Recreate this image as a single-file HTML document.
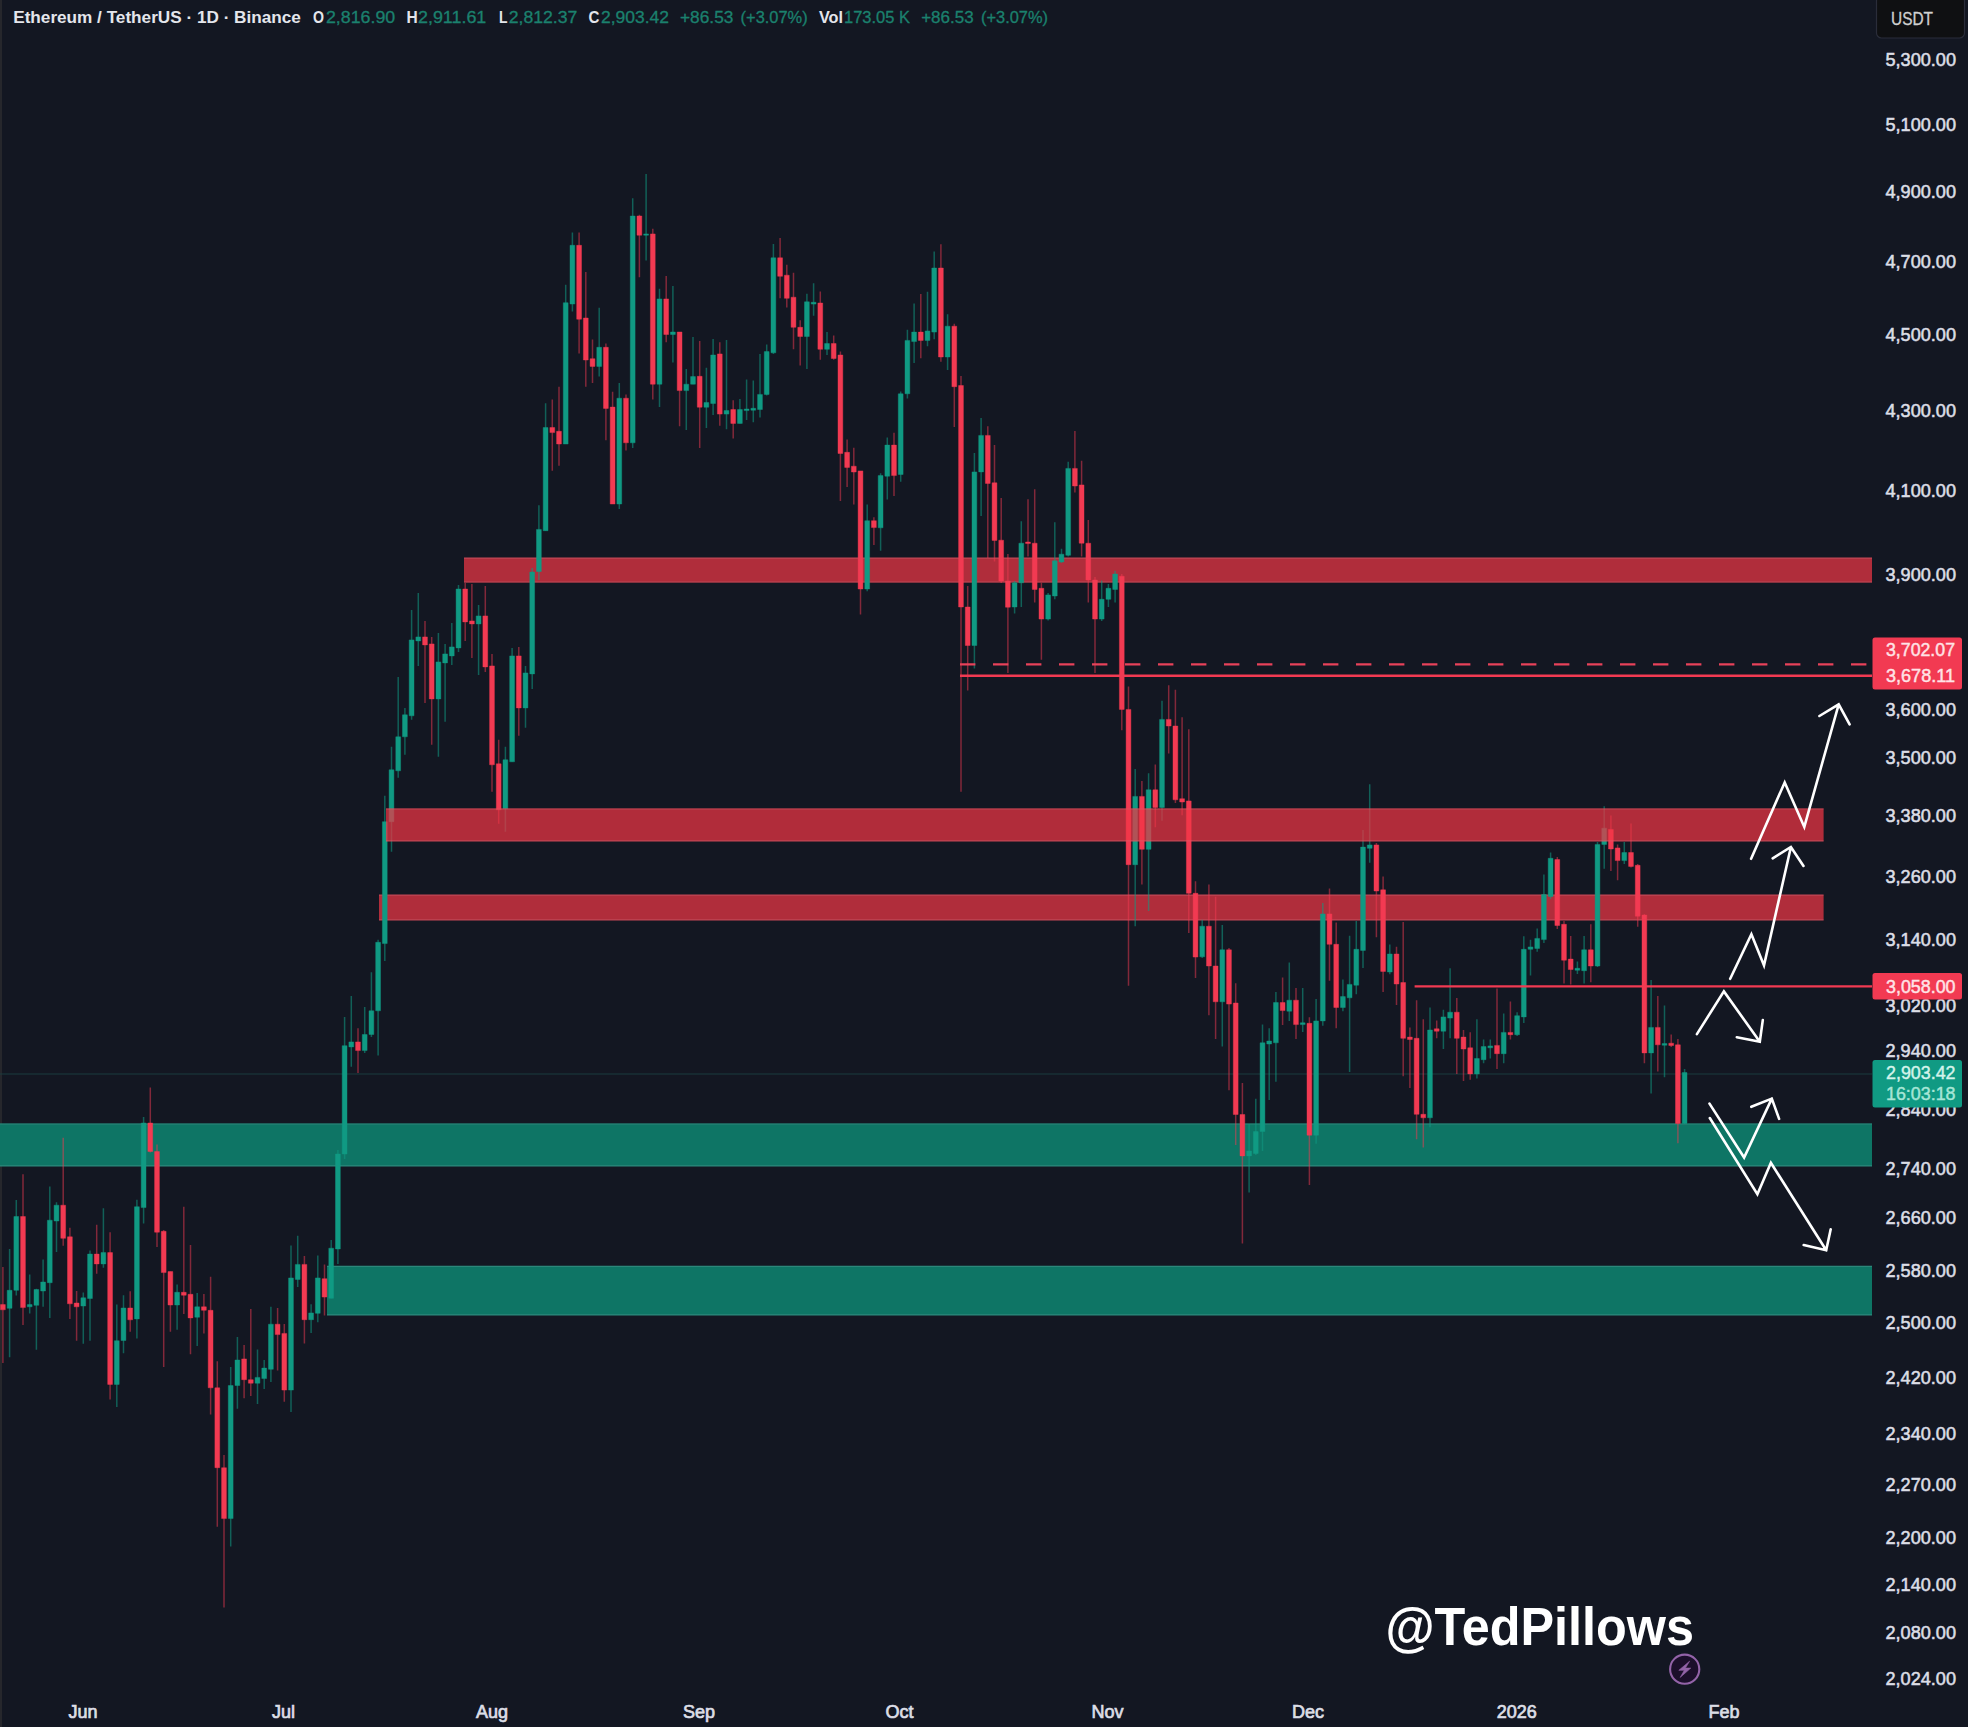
<!DOCTYPE html>
<html><head><meta charset="utf-8"><title>ETHUSDT</title>
<style>html,body{margin:0;padding:0;background:#131722;}body{width:1968px;height:1727px;overflow:hidden;font-family:"Liberation Sans",sans-serif;}svg{display:block;}text{font-family:"Liberation Sans",sans-serif;}</style>
</head><body>
<svg width="1968" height="1727" viewBox="0 0 1968 1727">
<rect x="0" y="0" width="1968" height="1727" fill="#131722"/>
<rect x="0" y="0" width="2" height="1727" fill="#26272c"/>
<g id="zones">
<rect x="464.0" y="557.6" width="1408.0" height="25.0" fill="#b02d3b"/>
<path d="M464.0 558.2h1408.0M464.0 582.0h1408.0" stroke="#d8707c" stroke-width="1.2" stroke-opacity="0.4" fill="none"/>
<rect x="379.0" y="894.6" width="1444.6" height="25.8" fill="#b02d3b"/>
<path d="M379.0 895.2h1444.6M379.0 919.8h1444.6" stroke="#d8707c" stroke-width="1.2" stroke-opacity="0.4" fill="none"/>
<rect x="0.0" y="1123.4" width="1872.0" height="43.0" fill="#0e7565"/>
<path d="M0.0 1124.0h1872.0M0.0 1165.8h1872.0" stroke="#5aa39a" stroke-width="1.2" stroke-opacity="0.4" fill="none"/>
<rect x="327.0" y="1265.8" width="1545.0" height="49.6" fill="#0e7565"/>
<path d="M327.0 1266.4h1545.0M327.0 1314.8h1545.0" stroke="#5aa39a" stroke-width="1.2" stroke-opacity="0.4" fill="none"/>
</g>
<line x1="0" y1="1074" x2="1872" y2="1074" stroke="#1a3d3f" stroke-width="1"/>
<g id="candles">
<path d="M9.6 1248.9V1357.3M16.3 1200.0V1295.5M29.7 1274.5V1313.6M36.4 1288.8V1349.8M43.1 1259.4V1306.8M49.8 1186.4V1318.1M56.5 1202.2V1251.9M83.3 1292.5V1343.7M90.0 1250.4V1340.7M103.4 1208.2V1267.7M116.8 1304.6V1407.0M123.5 1295.2V1353.3M136.9 1199.8V1338.5M143.6 1117.0V1223.4M177.1 1284.4V1329.7M197.2 1293.0V1346.0M230.7 1367.0V1546.4M237.4 1337.0V1408.7M257.5 1349.6V1404.0M264.2 1360.0V1389.0M270.9 1306.8V1382.0M291.0 1245.5V1412.0M297.7 1235.8V1287.0M311.1 1304.3V1332.9M317.8 1255.4V1322.3M331.2 1240.0V1298.3M337.9 1150.0V1264.0M344.6 1017.0V1159.0M351.3 995.9V1066.8M364.7 1007.0V1053.0M371.4 972.2V1037.0M378.1 939.8V1055.6M384.8 795.8V961.0M391.5 746.8V851.7M398.2 676.9V777.8M404.9 707.9V754.8M411.6 610.0V719.8M418.3 593.0V665.9M438.4 632.9V756.8M445.1 643.9V721.8M451.8 622.9V664.9M458.5 585.0V651.9M478.6 605.0V674.9M505.4 746.8V831.7M512.1 647.9V761.8M525.5 665.9V727.8M532.2 568.0V688.9M538.9 505.2V580.0M545.6 403.3V530.7M565.7 284.8V444.0M572.4 232.6V311.6M599.2 307.8V376.6M619.3 383.0V509.0M632.7 198.2V448.0M646.1 174.0V260.6M659.5 288.7V407.1M672.9 286.1V362.5M686.3 368.9V430.0M693.0 337.0V384.2M706.4 367.8V428.0M713.1 338.9V415.0M726.5 340.0V429.2M739.9 399.0V423.4M746.6 379.4V420.0M753.3 380.5V422.2M760.0 353.9V417.6M766.7 344.6V395.5M773.4 243.9V354.0M806.9 293.7V369.0M813.6 283.3V315.7M827.0 331.9V355.0M867.2 504.5V591.3M880.6 473.2V550.8M887.3 437.5V499.6M900.7 391.4V481.7M907.4 329.7V398.6M914.1 303.6V363.0M927.5 291.7V346.3M934.2 251.4V339.2M947.6 314.3V370.0M974.4 453.0V668.6M981.1 418.0V515.9M1014.6 581.0V613.6M1021.3 521.2V607.0M1048.1 593.0V620.5M1054.8 522.3V599.3M1061.5 548.7V563.0M1068.2 461.8V556.5M1101.7 580.6V621.0M1108.4 584.0V607.0M1115.1 570.7V602.6M1135.2 768.9V926.3M1148.6 773.3V910.9M1162.0 700.7V820.7M1202.2 919.7V958.0M1222.3 925.0V1046.4M1249.1 1124.0V1192.4M1255.8 1098.7V1155.0M1262.5 1024.5V1151.0M1269.2 1028.2V1100.0M1275.9 991.9V1081.7M1289.3 962.5V1020.9M1302.7 988.1V1031.9M1316.1 999.0V1143.7M1322.8 903.0V1025.8M1342.9 979.6V1011.2M1349.6 935.8V1072.0M1356.3 921.0V994.2M1363.0 830.0V968.0M1369.7 784.2V862.7M1389.8 944.4V974.2M1430.0 1007.4V1127.3M1443.4 1009.8V1049.0M1450.1 968.2V1038.3M1476.9 1019.3V1078.6M1483.6 1039.5V1063.2M1490.3 1039.5V1058.5M1503.7 1013.4V1063.2M1517.1 1012.2V1036.0M1523.8 936.2V1022.9M1530.5 939.8V975.4M1537.2 928.5V951.8M1543.9 874.5V943.1M1550.6 852.5V898.9M1577.4 961.4V974.1M1584.1 935.9V983.4M1597.5 842.1V967.0M1604.2 806.2V868.8M1624.3 842.1V864.1M1651.1 979.9V1093.4M1664.5 1005.4V1077.2M1684.6 1069.1V1124.0" stroke="#109a83" stroke-width="1.5" stroke-opacity="0.56" fill="none"/>
<path d="M2.9 1267.0V1363.0M23.0 1174.3V1325.0M63.2 1137.8V1245.8M69.9 1227.8V1318.9M76.6 1291.0V1340.7M96.7 1224.8V1273.7M110.1 1232.3V1399.4M130.2 1291.3V1331.7M150.3 1087.6V1152.5M157.0 1144.6V1247.0M163.7 1230.0V1367.0M170.4 1271.6V1331.7M183.8 1206.7V1314.0M190.5 1245.0V1354.3M203.9 1294.0V1333.4M210.6 1276.7V1414.4M217.3 1361.2V1526.7M224.0 1455.0V1607.5M244.1 1345.0V1398.2M250.8 1309.0V1396.0M277.6 1308.0V1370.5M284.3 1324.0V1401.7M304.4 1256.0V1343.4M324.5 1264.4V1315.6M358.0 1028.2V1073.0M425.0 620.9V702.9M431.7 636.9V744.8M465.2 583.0V640.9M471.9 584.0V657.9M485.3 586.0V671.9M492.0 653.9V791.8M498.7 739.8V823.7M518.8 646.9V735.8M552.3 399.5V470.8M559.0 386.8V465.7M579.1 232.6V353.6M585.8 272.0V386.8M592.5 339.6V383.0M605.9 343.4V440.3M612.6 391.8V504.0M626.0 394.4V450.4M639.4 214.8V277.2M652.8 228.8V399.5M666.2 275.9V342.2M679.6 332.0V426.2M699.7 340.9V447.9M719.8 342.3V425.7M733.2 400.2V438.4M780.1 238.1V298.3M786.8 264.7V307.6M793.5 272.8V349.3M800.2 320.3V365.5M820.3 291.4V359.7M833.7 335.4V359.7M840.4 351.6V501.0M847.1 439.6V487.1M853.8 447.7V504.5M860.5 470.9V614.5M873.9 517.2V545.0M894.0 432.8V496.1M920.8 294.0V358.2M940.9 244.2V361.8M954.3 323.8V427.0M961.0 376.0V791.8M967.7 586.0V690.6M987.8 426.3V558.1M994.5 445.1V561.6M1001.2 498.0V583.0M1007.9 554.0V673.0M1028.0 499.2V556.4M1034.7 489.3V602.6M1041.4 582.8V659.8M1074.9 431.0V492.6M1081.6 460.7V556.4M1088.3 520.1V602.6M1095.0 577.0V673.0M1121.8 574.0V730.3M1128.5 686.4V985.7M1141.9 781.0V884.5M1155.3 764.5V827.3M1168.7 685.3V753.5M1175.4 689.7V803.0M1182.1 717.2V815.2M1188.8 729.3V932.9M1195.5 881.2V978.0M1208.9 884.6V1015.2M1215.6 896.7V1039.1M1229.0 948.0V1090.2M1235.7 983.3V1145.0M1242.4 1082.9V1243.4M1282.6 977.5V1025.0M1296.0 988.1V1039.1M1309.4 1017.3V1185.1M1329.5 888.4V980.8M1336.2 922.4V1028.2M1376.4 843.0V937.2M1383.1 876.5V991.9M1396.5 946.8V1005.0M1403.2 922.0V1076.3M1409.9 1027.6V1088.1M1416.6 1000.3V1139.2M1423.3 1019.3V1147.5M1436.7 1020.5V1038.3M1456.8 997.9V1073.9M1463.5 1030.0V1081.0M1470.2 1032.3V1079.8M1497.0 988.4V1069.1M1510.4 1001.5V1039.5M1557.3 857.0V929.0M1564.0 920.9V983.4M1570.7 935.9V984.6M1590.8 924.3V982.2M1610.9 815.5V871.1M1617.6 844.4V880.3M1631.0 823.6V867.6M1637.7 864.0V926.7M1644.4 914.0V1063.3M1657.8 996.1V1071.4M1671.2 1034.4V1047.0M1677.9 1039.0V1143.2" stroke="#f23a52" stroke-width="1.5" stroke-opacity="0.5" fill="none"/>
<path d="M7.20 1290.3h4.8v18.0h-4.8zM13.90 1216.5h4.8v73.8h-4.8zM27.30 1304.6h4.8v2.2h-4.8zM34.00 1289.5h4.8v15.8h-4.8zM40.70 1282.0h4.8v9.0h-4.8zM47.40 1220.2h4.8v62.5h-4.8zM54.10 1205.2h4.8v15.8h-4.8zM80.90 1297.8h4.8v8.2h-4.8zM87.60 1254.1h4.8v44.4h-4.8zM101.00 1252.6h4.8v11.3h-4.8zM114.40 1340.7h4.8v43.7h-4.8zM121.10 1308.0h4.8v32.5h-4.8zM134.50 1206.7h4.8v112.2h-4.8zM141.20 1123.0h4.8v84.6h-4.8zM174.70 1292.3h4.8v12.7h-4.8zM194.80 1306.8h4.8v10.4h-4.8zM228.30 1385.5h4.8v133.1h-4.8zM235.00 1360.0h4.8v25.5h-4.8zM255.10 1377.4h4.8v5.8h-4.8zM261.80 1368.1h4.8v10.5h-4.8zM268.50 1324.2h4.8v45.1h-4.8zM288.60 1277.9h4.8v112.2h-4.8zM295.30 1264.4h4.8v15.0h-4.8zM308.70 1312.9h4.8v6.8h-4.8zM315.40 1277.9h4.8v35.4h-4.8zM328.80 1248.2h4.8v50.1h-4.8zM335.50 1154.0h4.8v95.0h-4.8zM342.20 1045.7h4.8v108.3h-4.8zM348.90 1041.9h4.8v5.0h-4.8zM362.30 1034.5h4.8v16.1h-4.8zM369.00 1010.8h4.8v23.7h-4.8zM375.70 942.3h4.8v68.5h-4.8zM382.40 821.7h4.8v121.9h-4.8zM389.10 769.8h4.8v51.9h-4.8zM395.80 736.8h4.8v34.0h-4.8zM402.50 714.8h4.8v22.0h-4.8zM409.20 639.9h4.8v75.9h-4.8zM415.90 636.9h4.8v4.0h-4.8zM436.00 661.9h4.8v37.0h-4.8zM442.70 653.9h4.8v9.0h-4.8zM449.40 646.9h4.8v9.0h-4.8zM456.10 589.0h4.8v58.9h-4.8zM476.20 615.9h4.8v8.0h-4.8zM503.00 759.8h4.8v49.0h-4.8zM509.70 655.9h4.8v105.9h-4.8zM523.10 672.9h4.8v35.0h-4.8zM529.80 572.0h4.8v101.9h-4.8zM536.50 529.4h4.8v42.1h-4.8zM543.20 427.5h4.8v103.2h-4.8zM563.30 302.7h4.8v141.3h-4.8zM570.00 245.3h4.8v58.7h-4.8zM596.80 347.3h4.8v19.1h-4.8zM616.90 398.2h4.8v105.8h-4.8zM630.30 216.0h4.8v226.8h-4.8zM643.70 233.9h4.8v1.3h-4.8zM657.10 298.9h4.8v85.3h-4.8zM670.50 332.0h4.8v2.5h-4.8zM683.90 384.2h4.8v6.4h-4.8zM690.60 376.6h4.8v7.6h-4.8zM704.00 402.5h4.8v4.7h-4.8zM710.70 355.0h4.8v48.5h-4.8zM724.10 410.6h4.8v3.5h-4.8zM737.50 409.5h4.8v13.9h-4.8zM744.20 409.0h4.8v1.6h-4.8zM750.90 408.3h4.8v1.9h-4.8zM757.60 394.4h4.8v15.1h-4.8zM764.30 351.6h4.8v42.8h-4.8zM771.00 257.8h4.8v95.0h-4.8zM804.50 301.8h4.8v34.7h-4.8zM811.20 302.3h4.8v1.8h-4.8zM824.60 343.5h4.8v5.8h-4.8zM864.80 520.7h4.8v68.3h-4.8zM878.20 475.6h4.8v52.2h-4.8zM884.90 445.1h4.8v31.1h-4.8zM898.30 393.8h4.8v80.7h-4.8zM905.00 340.4h4.8v53.4h-4.8zM911.70 332.1h4.8v9.5h-4.8zM925.10 330.9h4.8v9.5h-4.8zM931.80 268.0h4.8v64.1h-4.8zM945.20 326.2h4.8v30.8h-4.8zM972.00 471.9h4.8v173.6h-4.8zM978.70 435.4h4.8v36.5h-4.8zM1012.20 582.8h4.8v24.2h-4.8zM1018.90 543.2h4.8v39.6h-4.8zM1045.70 594.9h4.8v24.2h-4.8zM1052.40 560.8h4.8v35.2h-4.8zM1059.10 554.2h4.8v7.7h-4.8zM1065.80 468.4h4.8v86.9h-4.8zM1099.30 599.3h4.8v19.8h-4.8zM1106.00 588.3h4.8v11.0h-4.8zM1112.70 574.0h4.8v15.4h-4.8zM1132.80 796.4h4.8v68.3h-4.8zM1146.20 789.8h4.8v59.5h-4.8zM1159.60 719.4h4.8v88.1h-4.8zM1199.80 926.2h4.8v30.6h-4.8zM1219.90 949.8h4.8v52.0h-4.8zM1246.70 1151.0h4.8v4.9h-4.8zM1253.40 1131.6h4.8v21.9h-4.8zM1260.10 1042.8h4.8v88.8h-4.8zM1266.80 1041.0h4.8v3.0h-4.8zM1273.50 1002.5h4.8v40.3h-4.8zM1286.90 1000.2h4.8v11.0h-4.8zM1300.30 1022.8h4.8v1.8h-4.8zM1313.70 1020.9h4.8v114.3h-4.8zM1320.40 913.9h4.8v107.0h-4.8zM1340.50 996.6h4.8v10.9h-4.8zM1347.20 984.4h4.8v13.4h-4.8zM1353.90 949.3h4.8v35.9h-4.8zM1360.60 847.1h4.8v103.3h-4.8zM1367.30 844.9h4.8v3.4h-4.8zM1387.40 954.0h4.8v18.0h-4.8zM1427.60 1030.0h4.8v87.8h-4.8zM1441.00 1016.9h4.8v14.3h-4.8zM1447.70 1012.2h4.8v5.9h-4.8zM1474.50 1058.5h4.8v15.4h-4.8zM1481.20 1046.6h4.8v13.1h-4.8zM1487.90 1045.9h4.8v1.9h-4.8zM1501.30 1032.4h4.8v21.3h-4.8zM1514.70 1015.7h4.8v19.0h-4.8zM1521.40 949.3h4.8v67.6h-4.8zM1528.10 946.9h4.8v2.4h-4.8zM1534.80 938.4h4.8v10.0h-4.8zM1541.50 894.5h4.8v45.1h-4.8zM1548.20 858.3h4.8v38.2h-4.8zM1575.00 968.3h4.8v1.9h-4.8zM1581.70 949.8h4.8v20.9h-4.8zM1595.10 844.4h4.8v121.6h-4.8zM1601.80 828.2h4.8v16.2h-4.8zM1621.90 852.5h4.8v8.1h-4.8zM1648.70 1027.4h4.8v25.5h-4.8zM1662.10 1043.6h4.8v1.6h-4.8zM1682.20 1072.6h4.8v50.9h-4.8z" fill="#109a83" stroke="#109a83" stroke-width="1" stroke-opacity="0.42" stroke-linejoin="round"/>
<path d="M0.50 1304.6h4.8v5.2h-4.8zM20.60 1216.5h4.8v91.1h-4.8zM60.80 1205.2h4.8v33.1h-4.8zM67.50 1236.8h4.8v67.0h-4.8zM74.20 1303.0h4.8v3.8h-4.8zM94.30 1254.1h4.8v9.8h-4.8zM107.70 1252.6h4.8v131.8h-4.8zM127.80 1308.0h4.8v11.8h-4.8zM147.90 1123.0h4.8v28.5h-4.8zM154.60 1151.5h4.8v80.7h-4.8zM161.30 1231.3h4.8v41.3h-4.8zM168.00 1271.6h4.8v33.4h-4.8zM181.40 1292.3h4.8v2.9h-4.8zM188.10 1294.3h4.8v23.6h-4.8zM201.50 1306.8h4.8v3.5h-4.8zM208.20 1310.3h4.8v77.5h-4.8zM214.90 1387.8h4.8v79.9h-4.8zM221.60 1467.7h4.8v50.9h-4.8zM241.70 1358.9h4.8v20.8h-4.8zM248.40 1379.7h4.8v3.5h-4.8zM275.20 1324.2h4.8v10.4h-4.8zM281.90 1333.4h4.8v56.7h-4.8zM302.00 1264.4h4.8v55.3h-4.8zM322.10 1278.7h4.8v18.4h-4.8zM355.60 1041.9h4.8v8.7h-4.8zM422.60 636.9h4.8v8.0h-4.8zM429.30 643.9h4.8v55.0h-4.8zM462.80 589.0h4.8v32.9h-4.8zM469.50 620.9h4.8v3.0h-4.8zM482.90 615.9h4.8v51.0h-4.8zM489.60 665.9h4.8v98.9h-4.8zM496.30 763.8h4.8v46.0h-4.8zM516.40 655.9h4.8v52.0h-4.8zM549.90 427.5h4.8v5.1h-4.8zM556.60 431.3h4.8v12.7h-4.8zM576.70 245.3h4.8v73.9h-4.8zM583.40 318.0h4.8v42.0h-4.8zM590.10 358.7h4.8v7.7h-4.8zM603.50 347.3h4.8v61.1h-4.8zM610.20 407.1h4.8v96.9h-4.8zM623.60 398.2h4.8v44.6h-4.8zM637.00 216.0h4.8v19.2h-4.8zM650.40 233.9h4.8v150.3h-4.8zM663.80 298.9h4.8v35.6h-4.8zM677.20 332.0h4.8v58.6h-4.8zM697.30 376.3h4.8v30.9h-4.8zM717.40 353.9h4.8v60.2h-4.8zM730.80 409.5h4.8v13.9h-4.8zM777.70 257.8h4.8v18.5h-4.8zM784.40 275.2h4.8v23.1h-4.8zM791.10 297.2h4.8v30.1h-4.8zM797.80 327.3h4.8v9.2h-4.8zM817.90 303.0h4.8v46.3h-4.8zM831.30 343.5h4.8v15.0h-4.8zM838.00 355.0h4.8v98.5h-4.8zM844.70 452.3h4.8v15.1h-4.8zM851.40 466.2h4.8v5.8h-4.8zM858.10 470.9h4.8v118.1h-4.8zM871.50 520.7h4.8v6.9h-4.8zM891.60 445.1h4.8v30.5h-4.8zM918.40 332.1h4.8v8.3h-4.8zM938.50 268.0h4.8v89.0h-4.8zM951.90 326.2h4.8v60.5h-4.8zM958.60 385.5h4.8v221.5h-4.8zM965.30 607.0h4.8v38.5h-4.8zM985.40 435.4h4.8v48.0h-4.8zM992.10 482.8h4.8v57.6h-4.8zM998.80 540.2h4.8v40.8h-4.8zM1005.50 581.0h4.8v26.2h-4.8zM1025.60 542.0h4.8v1.6h-4.8zM1032.30 543.2h4.8v46.2h-4.8zM1039.00 588.3h4.8v30.8h-4.8zM1072.50 468.4h4.8v17.6h-4.8zM1079.20 484.9h4.8v58.3h-4.8zM1085.90 543.2h4.8v36.8h-4.8zM1092.60 580.0h4.8v39.1h-4.8zM1119.40 576.2h4.8v133.2h-4.8zM1126.10 709.4h4.8v155.3h-4.8zM1139.50 796.4h4.8v52.9h-4.8zM1152.90 789.8h4.8v17.7h-4.8zM1166.30 719.4h4.8v6.6h-4.8zM1173.00 726.0h4.8v73.8h-4.8zM1179.70 798.7h4.8v3.3h-4.8zM1186.40 800.9h4.8v92.4h-4.8zM1193.10 893.3h4.8v63.8h-4.8zM1206.50 926.2h4.8v39.8h-4.8zM1213.20 966.0h4.8v35.8h-4.8zM1226.60 949.8h4.8v54.3h-4.8zM1233.30 1003.0h4.8v111.5h-4.8zM1240.00 1114.5h4.8v41.4h-4.8zM1280.20 1002.5h4.8v8.1h-4.8zM1293.60 1000.2h4.8v24.4h-4.8zM1307.00 1023.3h4.8v111.9h-4.8zM1327.10 913.9h4.8v30.4h-4.8zM1333.80 944.3h4.8v63.2h-4.8zM1374.00 844.9h4.8v46.1h-4.8zM1380.70 889.8h4.8v81.6h-4.8zM1394.10 954.0h4.8v30.0h-4.8zM1400.80 982.5h4.8v55.8h-4.8zM1407.50 1037.1h4.8v2.4h-4.8zM1414.20 1038.3h4.8v76.0h-4.8zM1420.90 1114.3h4.8v3.5h-4.8zM1434.30 1028.8h4.8v2.4h-4.8zM1454.40 1012.2h4.8v26.1h-4.8zM1461.10 1037.1h4.8v11.9h-4.8zM1467.80 1047.8h4.8v26.1h-4.8zM1494.60 1045.4h4.8v8.3h-4.8zM1508.00 1032.4h4.8v2.3h-4.8zM1554.90 859.5h4.8v66.0h-4.8zM1561.60 924.3h4.8v35.9h-4.8zM1568.30 959.1h4.8v10.4h-4.8zM1588.40 949.8h4.8v16.2h-4.8zM1608.50 829.4h4.8v19.6h-4.8zM1615.20 847.9h4.8v12.7h-4.8zM1628.60 852.5h4.8v13.9h-4.8zM1635.30 865.3h4.8v50.9h-4.8zM1642.00 915.1h4.8v137.8h-4.8zM1655.40 1027.4h4.8v17.4h-4.8zM1668.80 1043.2h4.8v2.3h-4.8zM1675.50 1044.8h4.8v78.7h-4.8z" fill="#f23a52" stroke="#f23a52" stroke-width="1" stroke-opacity="0.42" stroke-linejoin="round"/>
</g>
<g id="zonetop">
<rect x="386.0" y="808.4" width="1437.6" height="33.0" fill="#f23645" fill-opacity="0.71"/>
<path d="M386.0 809.0h1437.6M386.0 840.8h1437.6" stroke="#d8707c" stroke-width="1.2" stroke-opacity="0.4" fill="none"/>
</g>
<g id="lines">
<line x1="960" y1="664.3" x2="1872" y2="664.3" stroke="#e8425a" stroke-width="2.2" stroke-dasharray="15.4 17.6"/>
<line x1="960" y1="675.8" x2="1872" y2="675.8" stroke="#f23a52" stroke-width="2.4"/>
<line x1="1414.6" y1="986.4" x2="1872" y2="986.4" stroke="#f23a52" stroke-width="2.4"/>
</g>
<g id="arrows" fill="none" stroke="#ffffff" stroke-width="2.6" stroke-linecap="round" stroke-linejoin="miter">
<path d="M1751.1 858.8L1784.7 782.4L1804.3 826.9L1838.7 704.3M1819.4 716L1838.7 704.3L1849.6 724.4"/>
<path d="M1730.2 978.8L1751.4 934.3L1764 965.4L1790.9 847M1772.7 858.4L1790.9 847L1803.5 866"/>
<path d="M1696.9 1034.1L1723.9 991.4L1759.8 1041.7M1736.8 1037.2L1759.8 1041.7L1762.8 1020.1"/>
<path d="M1709.5 1103.6L1744.1 1157.5L1771.8 1098.6M1751.3 1106.8L1771.8 1098.6L1779.1 1118.9"/>
<path d="M1709.8 1118L1757.4 1194.3L1770.9 1162.8L1826.2 1250.3M1803.7 1245L1826.2 1250.3L1830.7 1229.3"/>
</g>
<g id="yaxis" fill="#dcdee6" font-size="18" stroke="#dcdee6" stroke-width="0.55">
<text x="1885.5" y="66.4" textLength="70.5" lengthAdjust="spacingAndGlyphs">5,300.00</text>
<text x="1885.5" y="131.4" textLength="70.5" lengthAdjust="spacingAndGlyphs">5,100.00</text>
<text x="1885.5" y="198.4" textLength="70.5" lengthAdjust="spacingAndGlyphs">4,900.00</text>
<text x="1885.5" y="268.4" textLength="70.5" lengthAdjust="spacingAndGlyphs">4,700.00</text>
<text x="1885.5" y="341.4" textLength="70.5" lengthAdjust="spacingAndGlyphs">4,500.00</text>
<text x="1885.5" y="417.4" textLength="70.5" lengthAdjust="spacingAndGlyphs">4,300.00</text>
<text x="1885.5" y="497.4" textLength="70.5" lengthAdjust="spacingAndGlyphs">4,100.00</text>
<text x="1885.5" y="581.4" textLength="70.5" lengthAdjust="spacingAndGlyphs">3,900.00</text>
<text x="1885.5" y="716.4" textLength="70.5" lengthAdjust="spacingAndGlyphs">3,600.00</text>
<text x="1885.5" y="764.4" textLength="70.5" lengthAdjust="spacingAndGlyphs">3,500.00</text>
<text x="1885.5" y="822.4" textLength="70.5" lengthAdjust="spacingAndGlyphs">3,380.00</text>
<text x="1885.5" y="883.4" textLength="70.5" lengthAdjust="spacingAndGlyphs">3,260.00</text>
<text x="1885.5" y="946.4" textLength="70.5" lengthAdjust="spacingAndGlyphs">3,140.00</text>
<text x="1885.5" y="1011.8" textLength="70.5" lengthAdjust="spacingAndGlyphs">3,020.00</text>
<text x="1885.5" y="1056.9" textLength="70.5" lengthAdjust="spacingAndGlyphs">2,940.00</text>
<text x="1885.5" y="1115.9" textLength="70.5" lengthAdjust="spacingAndGlyphs">2,840.00</text>
<text x="1885.5" y="1175.4" textLength="70.5" lengthAdjust="spacingAndGlyphs">2,740.00</text>
<text x="1885.5" y="1224.4" textLength="70.5" lengthAdjust="spacingAndGlyphs">2,660.00</text>
<text x="1885.5" y="1277.4" textLength="70.5" lengthAdjust="spacingAndGlyphs">2,580.00</text>
<text x="1885.5" y="1329.4" textLength="70.5" lengthAdjust="spacingAndGlyphs">2,500.00</text>
<text x="1885.5" y="1384.4" textLength="70.5" lengthAdjust="spacingAndGlyphs">2,420.00</text>
<text x="1885.5" y="1440.4" textLength="70.5" lengthAdjust="spacingAndGlyphs">2,340.00</text>
<text x="1885.5" y="1491.4" textLength="70.5" lengthAdjust="spacingAndGlyphs">2,270.00</text>
<text x="1885.5" y="1544.4" textLength="70.5" lengthAdjust="spacingAndGlyphs">2,200.00</text>
<text x="1885.5" y="1590.9" textLength="70.5" lengthAdjust="spacingAndGlyphs">2,140.00</text>
<text x="1885.5" y="1638.9" textLength="70.5" lengthAdjust="spacingAndGlyphs">2,080.00</text>
<text x="1885.5" y="1684.9" textLength="70.5" lengthAdjust="spacingAndGlyphs">2,024.00</text>
</g>
<g id="tags">
<rect x="1872.5" y="637.5" width="89.5" height="52" rx="2.5" fill="#f23a52"/>
<rect x="1872.5" y="973" width="89.5" height="26.5" rx="2.5" fill="#f23a52"/>
<rect x="1872.5" y="1060" width="89.5" height="47.5" rx="2.5" fill="#109a83"/>
<g font-size="18" fill="#ffe3e6" stroke="#ffe3e6" stroke-width="0.45">
<text x="1886" y="656" textLength="69" lengthAdjust="spacingAndGlyphs">3,702.07</text>
<text x="1886" y="681.6" textLength="69" lengthAdjust="spacingAndGlyphs">3,678.11</text>
<text x="1886" y="992.6" textLength="69.5" lengthAdjust="spacingAndGlyphs">3,058.00</text>
</g>
<g font-size="18" fill="#d3f3ea" stroke="#d3f3ea" stroke-width="0.45">
<text x="1886" y="1078.8" textLength="69.5" lengthAdjust="spacingAndGlyphs">2,903.42</text>
<text x="1886" y="1100.4" textLength="69.5" lengthAdjust="spacingAndGlyphs" fill="#a6e6d6" stroke="#a6e6d6">16:03:18</text>
</g>
</g>
<rect x="1876.5" y="-4" width="88" height="42" rx="5" fill="#0f1012" stroke="#2a2d3a" stroke-width="1.2"/>
<text x="1891" y="24.6" font-size="17.5" fill="#d0d0d0" stroke="#d0d0d0" stroke-width="0.3" textLength="42" lengthAdjust="spacingAndGlyphs">USDT</text>
<g id="xaxis" fill="#dcdee6" stroke="#dcdee6" stroke-width="0.7" font-size="18" text-anchor="middle">
<text x="83.0" y="1717.8">Jun</text>
<text x="283.5" y="1717.8">Jul</text>
<text x="492.0" y="1717.8">Aug</text>
<text x="699.0" y="1717.8">Sep</text>
<text x="899.5" y="1717.8">Oct</text>
<text x="1107.5" y="1717.8">Nov</text>
<text x="1308.0" y="1717.8">Dec</text>
<text x="1516.8" y="1717.8">2026</text>
<text x="1724.0" y="1717.8">Feb</text>
</g>
<text x="1385.5" y="1645" font-size="54" font-weight="bold" fill="#ffffff" textLength="308.5" lengthAdjust="spacingAndGlyphs">@TedPillows</text>
<g id="icon" stroke="#9363a8" fill="none"><circle cx="1684.7" cy="1669.2" r="14.6" stroke-width="2.1" fill="#1c0f2b"/><path d="M1689.6 1661.2L1678.8 1670.3L1684.3 1670.3L1680.2 1677.4L1690.8 1668.1L1685.4 1668.1Z" fill="#9363a8" stroke-width="0.6" stroke-linejoin="round"/></g>
<g id="header" font-size="17" >
<text x="13.2" y="22.8" fill="#e4e6ec" font-weight="bold" textLength="287.7" lengthAdjust="spacingAndGlyphs">Ethereum / TetherUS · 1D · Binance</text>
<text x="313.0" y="22.8" fill="#e4e6ec" font-weight="bold" textLength="11.0" lengthAdjust="spacingAndGlyphs">O</text>
<text x="325.9" y="22.8" fill="#1b816e"  textLength="69.3" lengthAdjust="spacingAndGlyphs" stroke="#1b816e" stroke-width="0.30">2,816.90</text>
<text x="406.4" y="22.8" fill="#e4e6ec" font-weight="bold" textLength="11.2" lengthAdjust="spacingAndGlyphs">H</text>
<text x="418.0" y="22.8" fill="#1b816e"  textLength="68.3" lengthAdjust="spacingAndGlyphs" stroke="#1b816e" stroke-width="0.30">2,911.61</text>
<text x="499.0" y="22.8" fill="#e4e6ec" font-weight="bold" textLength="8.5" lengthAdjust="spacingAndGlyphs">L</text>
<text x="508.7" y="22.8" fill="#1b816e"  textLength="68.7" lengthAdjust="spacingAndGlyphs" stroke="#1b816e" stroke-width="0.30">2,812.37</text>
<text x="588.6" y="22.8" fill="#e4e6ec" font-weight="bold" textLength="10.9" lengthAdjust="spacingAndGlyphs">C</text>
<text x="601.0" y="22.8" fill="#1b816e"  textLength="68.0" lengthAdjust="spacingAndGlyphs" stroke="#1b816e" stroke-width="0.30">2,903.42</text>
<text x="680.0" y="22.8" fill="#1b816e"  textLength="53.4" lengthAdjust="spacingAndGlyphs" stroke="#1b816e" stroke-width="0.30">+86.53</text>
<text x="740.6" y="22.8" fill="#1b816e"  textLength="67.1" lengthAdjust="spacingAndGlyphs" stroke="#1b816e" stroke-width="0.30">(+3.07%)</text>
<text x="818.9" y="22.8" fill="#e4e6ec" font-weight="bold" textLength="24.1" lengthAdjust="spacingAndGlyphs">Vol</text>
<text x="844.0" y="22.8" fill="#1b816e"  textLength="66.0" lengthAdjust="spacingAndGlyphs" stroke="#1b816e" stroke-width="0.30">173.05 K</text>
<text x="921.2" y="22.8" fill="#1b816e"  textLength="52.5" lengthAdjust="spacingAndGlyphs" stroke="#1b816e" stroke-width="0.30">+86.53</text>
<text x="981.0" y="22.8" fill="#1b816e"  textLength="67.0" lengthAdjust="spacingAndGlyphs" stroke="#1b816e" stroke-width="0.30">(+3.07%)</text>
</g>
</svg></body></html>
